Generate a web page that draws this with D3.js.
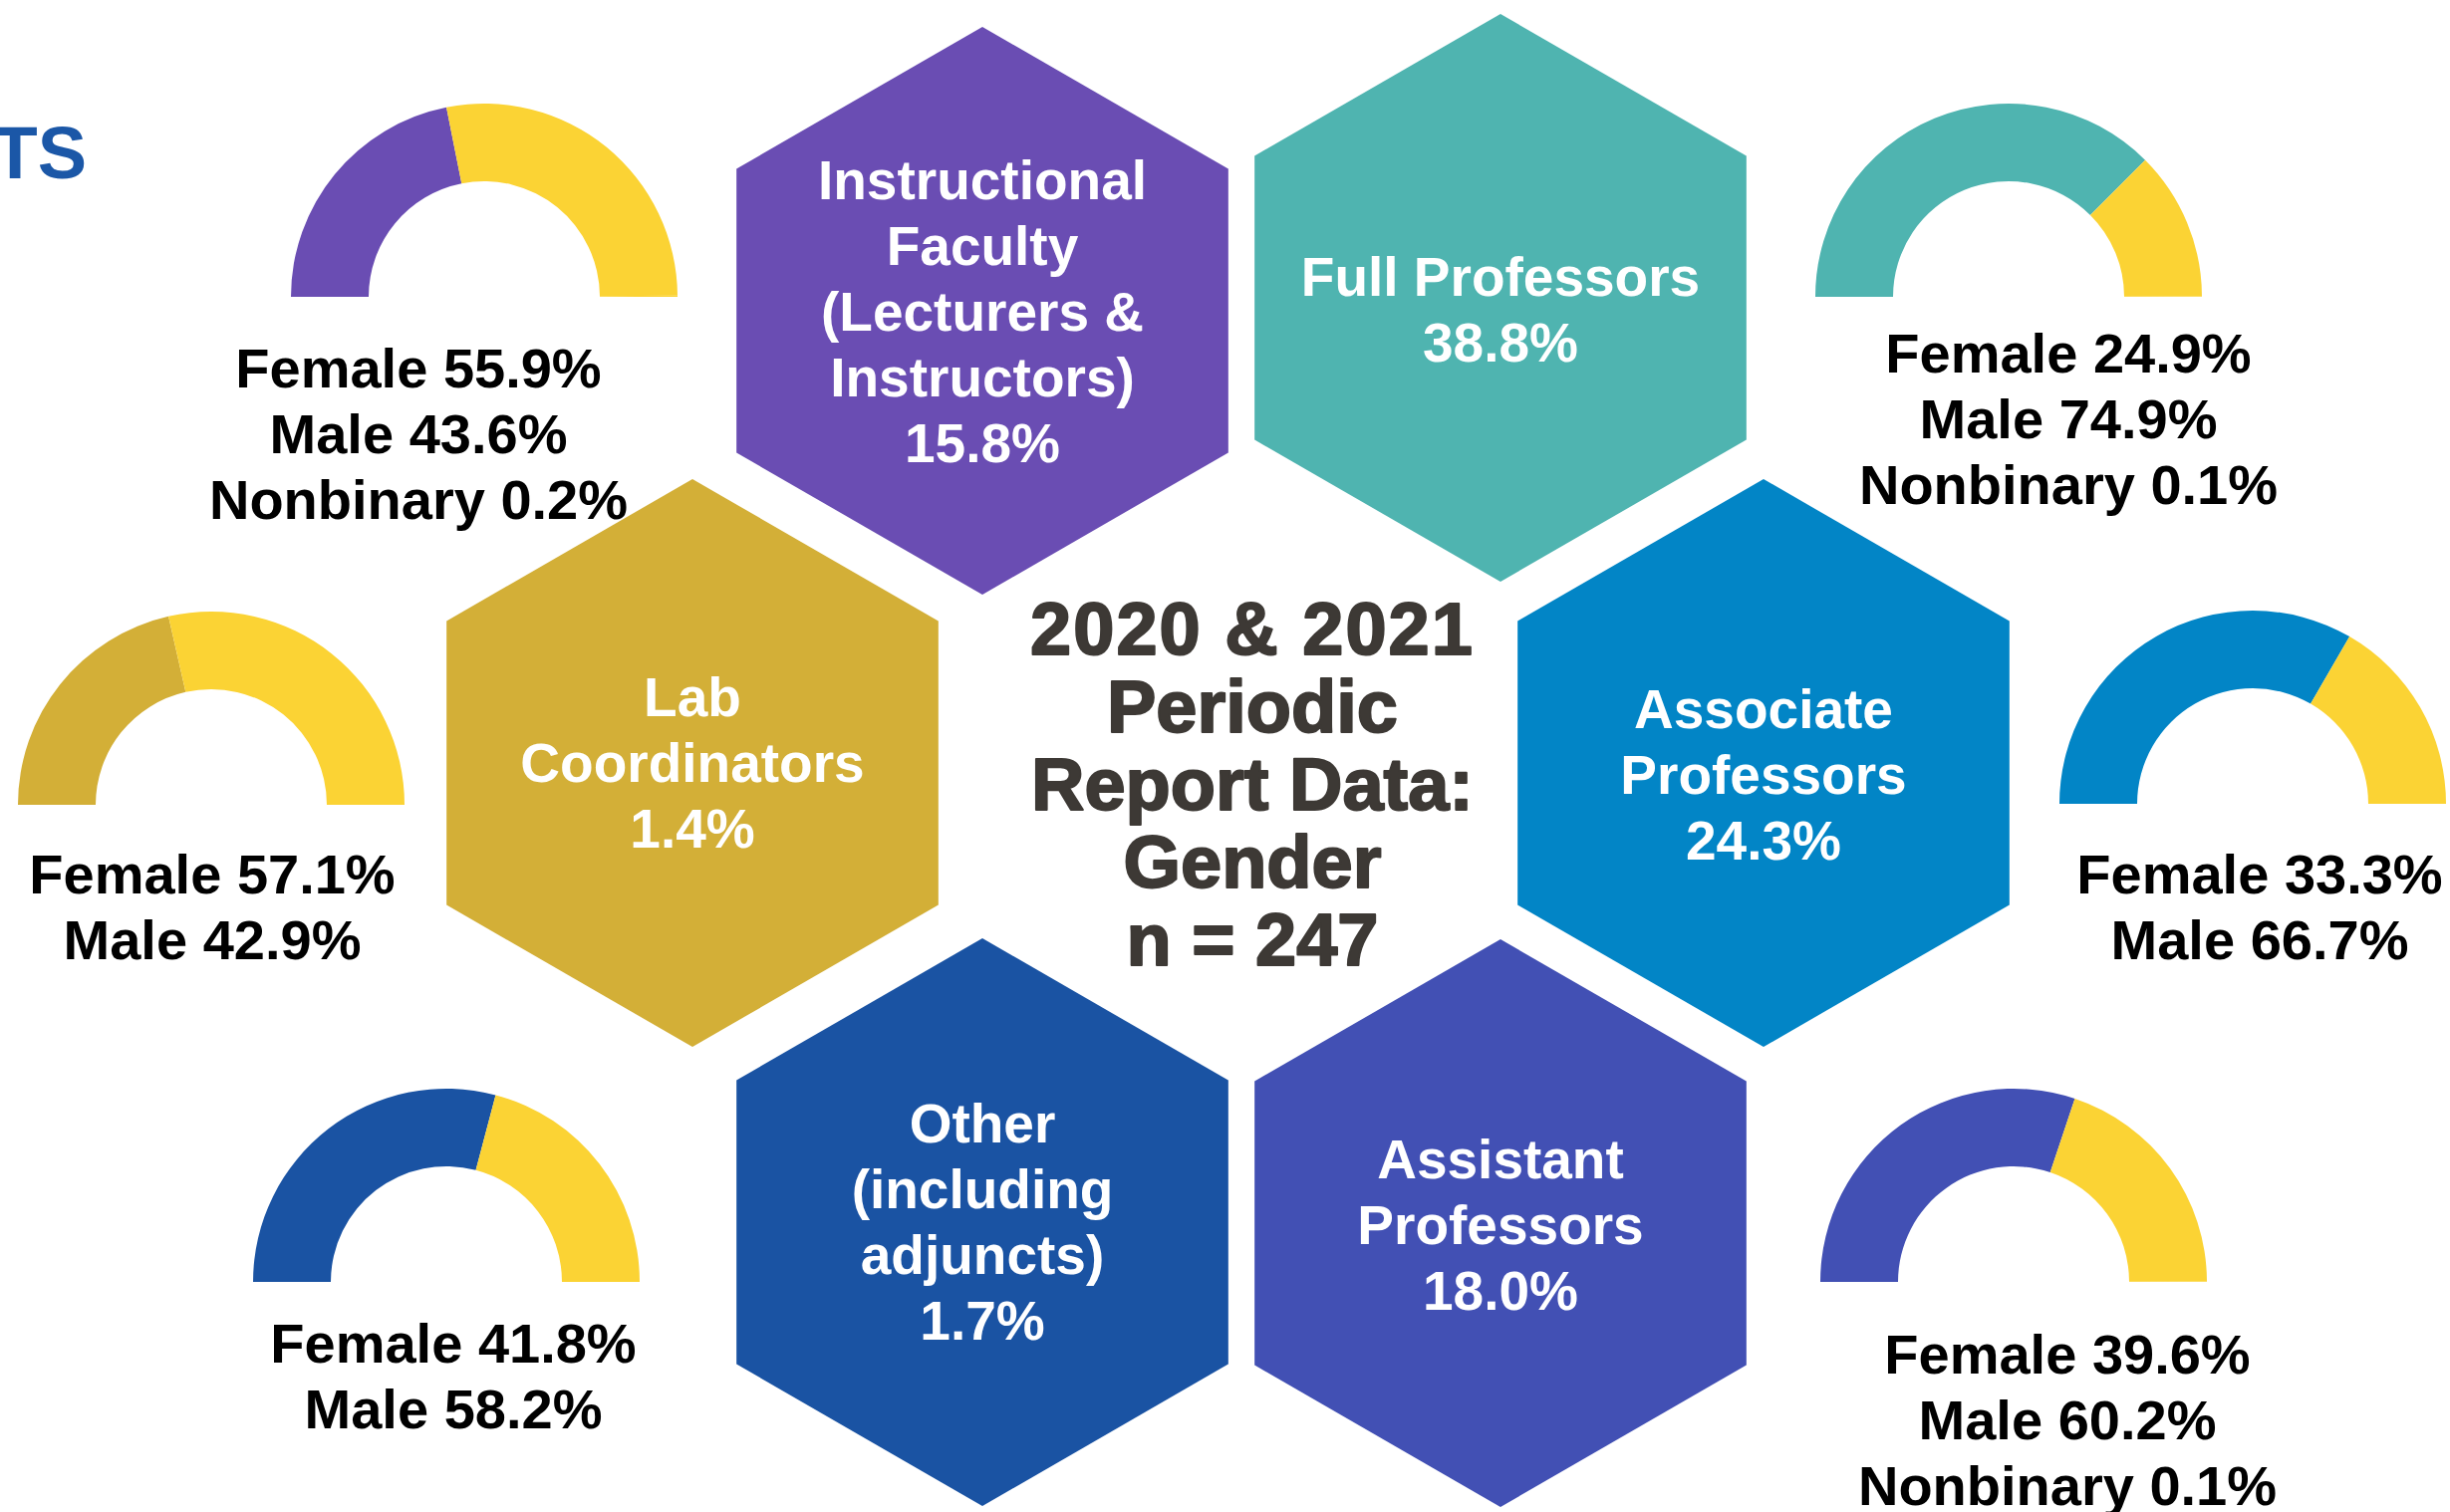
<!DOCTYPE html>
<html>
<head>
<meta charset="utf-8">
<script src="https://cdn.jsdelivr.net/npm/d3@7"></script>
<style>
  html, body { margin: 0; padding: 0; background: #ffffff; }
  svg { display: block; }
</style>
</head>
<body>
<script>
// ---------- DATA ----------
const categories = [
  "Instructional Faculty (Lecturers & Instructors)",
  "Full Professors",
  "Lab Coordinators",
  "Associate Professors",
  "Other (including adjuncts)",
  "Assistant Professors"
];
const categoryLines = [
  ["Instructional", "Faculty", "(Lecturers &", "Instructors)"],
  ["Full Professors"],
  ["Lab", "Coordinators"],
  ["Associate", "Professors"],
  ["Other", "(including", "adjuncts)"],
  ["Assistant", "Professors"]
];
const shareOfTotal = [15.8, 38.8, 1.4, 24.3, 1.7, 18.0];
const femalePct    = [55.9, 24.9, 57.1, 33.3, 41.8, 39.6];
const malePct      = [43.6, 74.9, 42.9, 66.7, 58.2, 60.2];
const nonbinaryPct = [0.2, 0.1, null, null, null, 0.1];
const titleLines = ["2020 & 2021", "Periodic", "Report Data:", "Gender", "n = 247"];

// ---------- LAYOUT / STYLE ----------
const W = 2459, H = 1518;
const hexColors = ["#6a4db3", "#4fb4b0", "#d3af37", "#0285c6", "#1a53a3", "#4250b4"];
const femaleColor = "#fbd334";
const hexLayout = [
  {cx: 986,  cy: 312,  labelY: 200},
  {cx: 1506, cy: 299,  labelY: 297},
  {cx: 695,  cy: 766,  labelY: 719},
  {cx: 1770, cy: 766,  labelY: 731},
  {cx: 986,  cy: 1227, labelY: 1147},
  {cx: 1506, cy: 1228, labelY: 1183}
];
const gaugeLayout = [
  {cx: 486,  cy: 298,  tx: 420,  ty: 389},
  {cx: 2016, cy: 298,  tx: 2076, ty: 374},
  {cx: 212,  cy: 808,  tx: 213,  ty: 897},
  {cx: 2261, cy: 807,  tx: 2268, ty: 897},
  {cx: 448,  cy: 1287, tx: 455,  ty: 1368},
  {cx: 2021, cy: 1287, tx: 2075, ty: 1379}
];
const hexR = 285;
const gaugeOuter = 194, gaugeInner = 116;
const lineGap = 66;
const FONT = "'Liberation Sans', Arial, Helvetica, sans-serif";

const svg = d3.select("body").append("svg")
  .attr("width", W).attr("height", H)
  .attr("viewBox", `0 0 ${W} ${H}`);

svg.append("rect").attr("width", W).attr("height", H).attr("fill", "#ffffff");

// cropped title fragment at the left edge
svg.append("text")
  .attr("x", 87).attr("y", 179)
  .attr("text-anchor", "end")
  .attr("font-family", FONT).attr("font-weight", 700)
  .attr("font-size", 74)
  .attr("fill", "#1b57a7")
  .text("TS");

// ---------- HEXAGONS ----------
const angleScale = d3.scaleLinear().domain([0, 6]).range([-Math.PI / 2, 1.5 * Math.PI]);
const hexLine = d3.line();
const hexPoints = (cx, cy) => d3.range(6).map(i => {
  const a = angleScale(i);
  return [cx + hexR * Math.cos(a), cy + hexR * Math.sin(a)];
});

const hexG = svg.append("g").selectAll("g")
  .data(categories.map((c, i) => ({c, i})))
  .join("g");

hexG.append("path")
  .attr("d", d => hexLine(hexPoints(hexLayout[d.i].cx, hexLayout[d.i].cy)) + "Z")
  .attr("fill", d => hexColors[d.i]);

hexG.each(function(d) {
  const g = d3.select(this);
  const L = hexLayout[d.i];
  const lines = categoryLines[d.i].concat([shareOfTotal[d.i].toFixed(1) + "%"]);
  g.selectAll("text").data(lines).join("text")
    .attr("x", L.cx)
    .attr("y", (t, k) => L.labelY + k * lineGap)
    .attr("text-anchor", "middle")
    .attr("font-family", FONT).attr("font-weight", 700)
    .attr("font-size", 55)
    .attr("fill", "#ffffff")
    .text(t => t);
});

// ---------- CENTER TITLE ----------
svg.append("g").selectAll("text").data(titleLines).join("text")
  .attr("x", 1257)
  .attr("y", (t, k) => 657 + k * 78)
  .attr("text-anchor", "middle")
  .attr("font-family", FONT).attr("font-weight", 700)
  .attr("font-size", 74)
  .attr("letter-spacing", (t, k) => k === 0 ? 2 : 0)
  .attr("fill", "#3d3935")
  .attr("stroke", "#3d3935")
  .attr("stroke-width", 2)
  .attr("stroke-linejoin", "round")
  .text(t => t);

// ---------- GAUGES ----------
const pie = d3.pie().sort(null).value(d => d.v)
  .startAngle(-Math.PI / 2).endAngle(Math.PI / 2);
const arc = d3.arc().innerRadius(gaugeInner).outerRadius(gaugeOuter);

categories.forEach((c, i) => {
  const L = gaugeLayout[i];
  const parts = [
    {k: "Male", v: malePct[i], color: hexColors[i]},
    {k: "Female", v: femalePct[i], color: femaleColor}
  ];
  if (nonbinaryPct[i] != null) parts.push({k: "Nonbinary", v: nonbinaryPct[i], color: femaleColor});
  const g = svg.append("g").attr("transform", `translate(${L.cx},${L.cy})`);
  g.selectAll("path").data(pie(parts)).join("path")
    .attr("d", arc)
    .attr("fill", d => d.data.color);

  const lines = [`Female ${femalePct[i].toFixed(1)}%`, `Male ${malePct[i].toFixed(1)}%`];
  if (nonbinaryPct[i] != null) lines.push(`Nonbinary ${nonbinaryPct[i].toFixed(1)}%`);
  svg.append("g").selectAll("text").data(lines).join("text")
    .attr("x", L.tx)
    .attr("y", (t, k) => L.ty + k * lineGap)
    .attr("text-anchor", "middle")
    .attr("font-family", FONT).attr("font-weight", 700)
    .attr("font-size", 56)
    .attr("fill", "#000000")
    .text(t => t);
});
</script>
</body>
</html>
